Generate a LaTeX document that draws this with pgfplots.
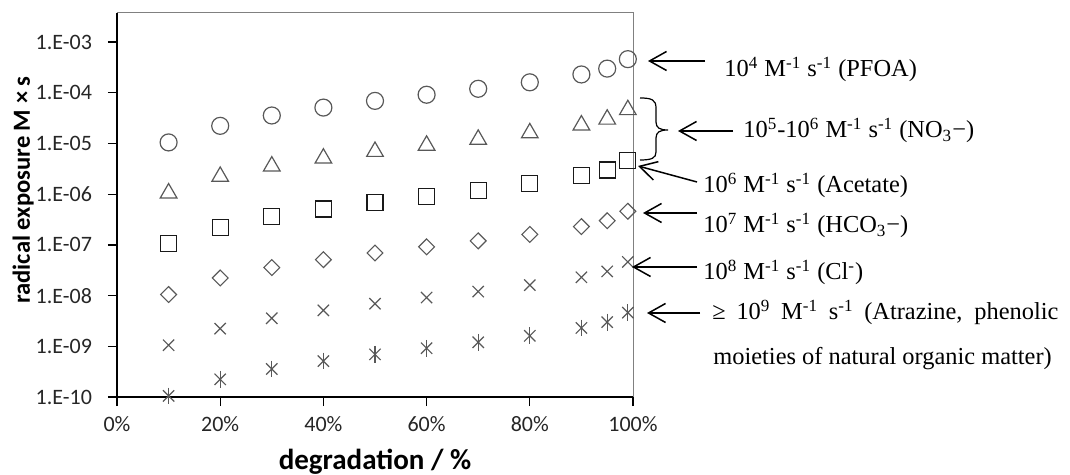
\documentclass[border=0pt]{standalone}
\usepackage{fontspec}
\setmainfont{Carlito}
\newfontfamily\tnr{Liberation Serif}
\usepackage{pgfplots}
\pgfplotsset{compat=1.18}
\usepackage{pgfplotstable}
\usetikzlibrary{arrows.meta}

\definecolor{mk}{RGB}{88,88,88}
\definecolor{frame}{RGB}{128,128,128}

% radical exposure needed for a given degradation, for second-order rate constants 10^4 ... 10^9 M^-1 s^-1
\pgfplotstableread{
x   k4       k5       k6       k7       k8       k9
10  1.05e-5  1.05e-6  1.05e-7  1.05e-8  1.05e-9  1.05e-10
20  2.23e-5  2.23e-6  2.23e-7  2.23e-8  2.23e-9  2.23e-10
30  3.57e-5  3.57e-6  3.57e-7  3.57e-8  3.57e-9  3.57e-10
40  5.11e-5  5.11e-6  5.11e-7  5.11e-8  5.11e-9  5.11e-10
50  6.93e-5  6.93e-6  6.93e-7  6.93e-8  6.93e-9  6.93e-10
60  9.16e-5  9.16e-6  9.16e-7  9.16e-8  9.16e-9  9.16e-10
70  1.20e-4  1.20e-5  1.20e-6  1.20e-7  1.20e-8  1.20e-9
80  1.61e-4  1.61e-5  1.61e-6  1.61e-7  1.61e-8  1.61e-9
90  2.30e-4  2.30e-5  2.30e-6  2.30e-7  2.30e-8  2.30e-9
95  3.00e-4  3.00e-5  3.00e-6  3.00e-7  3.00e-8  3.00e-9
99  4.61e-4  4.61e-5  4.61e-6  4.61e-7  4.61e-8  4.61e-9
}\exposure

\newcommand{\annfont}{\fontsize{12.2}{14}\selectfont\tnr}
\newcommand{\sups}[1]{\textsuperscript{#1}}

\begin{document}
\begin{tikzpicture}
% layout grid: one unit = 0.5pt, origin at the top left corner of the figure
\begin{scope}[x=0.5pt,y=-0.5pt,shift={(-58.5pt,198.5pt)}]
  \useasboundingbox (0,0) rectangle (1070,475);
\end{scope}

\begin{axis}[
  at={(0,0)}, anchor=south west,
  scale only axis, width=258pt, height=192pt,
  xmin=0, xmax=100,
  ymode=log, ymin=1e-10, ymax=3.75e-3,
  axis x line*=bottom, axis y line*=left,
  axis line style={black, line width=0.65pt},
  xtick={0,20,40,60,80,100},
  xticklabels={0\%,20\%,40\%,60\%,80\%,100\%},
  ytick={1e-10,1e-9,1e-8,1e-7,1e-6,1e-5,1e-4,1e-3},
  yticklabels={1.E-10,1.E-09,1.E-08,1.E-07,1.E-06,1.E-05,1.E-04,1.E-03},
  minor tick num=0, yminorticks=false,
  tick align=outside, major tick length=4.5pt,
  tick style={black, line width=0.6pt},
  tick label style={font=\fontsize{11}{13}\selectfont, text=black!85},
  yticklabel style={xshift=-4.5pt},
  xticklabel style={yshift=-1.5pt},
  clip=false,
]
  \draw[frame, line width=0.5pt] (rel axis cs:0,1) -- (rel axis cs:1,1) -- (rel axis cs:1,0);

  \addplot[only marks, mark=o, mark size=4.25pt, color=mk, line width=0.6pt]
    table[x=x, y=k4] {\exposure};
  \addplot[only marks, mark=triangle, mark size=4.8pt, color=mk, line width=0.6pt]
    table[x=x, y=k5] {\exposure};
  \addplot[only marks, mark=square, mark size=4pt, color=black!90, line width=0.6pt]
    table[x=x, y=k6] {\exposure};
  \addplot[only marks, mark=square, mark size=2.8pt, mark options={rotate=45}, color=mk, line width=0.55pt]
    table[x=x, y=k7] {\exposure};
  \addplot[only marks, mark=x, mark size=4pt, color=mk, line width=0.6pt]
    table[x=x, y=k8] {\exposure};
  % asterisk: a cross with a vertical stroke through it
  \addplot[only marks, mark=x, mark size=4pt, color=mk, line width=0.6pt]
    table[x=x, y=k9] {\exposure};
  \addplot[only marks, mark=|, mark size=4.2pt, color=mk, line width=0.6pt]
    table[x=x, y=k9] {\exposure};
\end{axis}

\begin{scope}[x=0.5pt,y=-0.5pt,shift={(-58.5pt,198.5pt)}]
  % axis titles
  \node[rotate=90, anchor=base, inner sep=0] at (30,190)
    {\fontsize{12.3}{14}\selectfont\bfseries radical exposure M × s};
  \node[anchor=base, inner sep=0] at (375,470)
    {\fontsize{14.5}{16}\selectfont\bfseries degradation / \%};

  % rate-constant annotations
  \tikzset{ann/.style={line width=0.75pt, -{Straight Barb[length=8.5pt,width=9.5pt]}}}
  \draw[ann] (705,61) -- (648,61);
  \node[anchor=base west, inner sep=0] at (724,77)
    {\annfont 10\sups{4} M\sups{-1} s\sups{-1} (PFOA)};

  \draw[line width=0.6pt] (640,98) .. controls (652,98) and (656,100) .. (656,108)
    -- (656,122) .. controls (656,128) and (660,130) .. (668,130)
    .. controls (660,130) and (656,132) .. (656,138) -- (656,152)
    .. controls (656,158) and (652,160) .. (640,160);
  \draw[ann] (733,131) -- (678,131);
  \node[anchor=base west, inner sep=0] at (743,138)
    {\annfont 10\sups{5}-10\sups{6} M\sups{-1} s\sups{-1} (NO\textsubscript{3}−)};

  \draw[ann] (697,182) -- (638,166);
  \node[anchor=base west, inner sep=0] at (703,193)
    {\annfont 10\sups{6} M\sups{-1} s\sups{-1} (Acetate)};

  \draw[ann] (697,213) -- (643,213);
  \node[anchor=base west, inner sep=0] at (703,233)
    {\annfont 10\sups{7} M\sups{-1} s\sups{-1} (HCO\textsubscript{3}−)};

  \draw[ann] (697,267) -- (632,267);
  \node[anchor=base west, inner sep=0] at (703,280)
    {\annfont 10\sups{8} M\sups{-1} s\sups{-1} (Cl\sups{-})};

  \draw[ann] (700,313) -- (647,313);
  \node[anchor=base west, inner sep=0] at (712,320)
    {\annfont\makebox[173pt][s]{≥ 10\sups{9} M\sups{-1} s\sups{-1} (Atrazine, phenolic}};
  \node[anchor=base west, inner sep=0] at (713,365)
    {\annfont moieties of natural organic matter)};
\end{scope}
\end{tikzpicture}
\end{document}
